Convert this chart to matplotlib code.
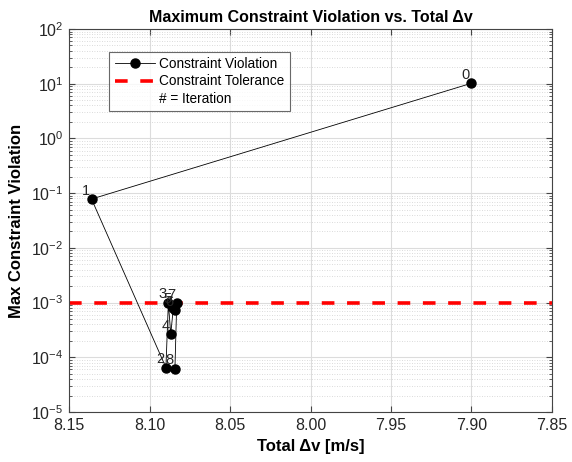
import numpy as np
import matplotlib
matplotlib.use("Agg")
import matplotlib.pyplot as plt
from matplotlib.lines import Line2D
from matplotlib.ticker import LogLocator, FixedLocator

plt.rcParams['font.family'] = ['Liberation Sans', 'DejaVu Sans']
plt.rcParams['mathtext.fontset'] = 'custom'
plt.rcParams['mathtext.rm'] = 'Liberation Sans'
plt.rcParams['mathtext.it'] = 'Liberation Sans:italic'

# data
iteration = [0, 1, 2, 3, 4, 5, 6, 7, 8]
total_dv = [7.900, 8.136, 8.0898, 8.0883, 8.0868, 8.0852, 8.0842, 8.0831, 8.0842]
max_violation = [10.2, 0.078, 6.5e-5, 9.9e-4, 2.65e-4, 8.0e-4, 7.3e-4, 9.7e-4, 6.2e-5]
tolerance = 1e-3
x_ticks = [8.15, 8.10, 8.05, 8.00, 7.95, 7.90, 7.85]
y_exponents = [-5, -4, -3, -2, -1, 0, 1, 2]

fig = plt.figure(figsize=(5.72, 4.62), dpi=100)
ax = fig.add_axes([69/572, 1 - 412/462, 483/572, 383/462])

ax.plot(total_dv, max_violation, '-o', color='black', lw=0.6,
        markersize=6.5, markerfacecolor='black', zorder=3)
ax.axhline(tolerance, color='red', ls=(0, (3.5, 3.5)), lw=2.6, zorder=2)

for it, x, y in zip(iteration, total_dv, max_violation):
    ax.annotate(str(it), (x, y), xytext=(-1, 1), textcoords='offset points',
                ha='right', va='bottom', fontsize=10.5, color='#262626', zorder=4)

ax.set_yscale('log')
ax.set_ylim(1e-5, 1e2)
ax.set_xlim(8.15, 7.85)
ax.xaxis.set_major_locator(FixedLocator(x_ticks))
ax.set_xticklabels(['%.2f' % v for v in x_ticks])
ax.set_yticks([10.0 ** e for e in y_exponents])
ax.set_yticklabels([r'$10^{%d}$' % e for e in y_exponents])
ax.yaxis.set_minor_locator(LogLocator(base=10, subs=np.arange(2, 10), numticks=20))

ax.grid(True, which='major', color='#dcdcdc', lw=0.8)
ax.grid(True, which='minor', axis='y', color='#cfcfcf', lw=0.6, ls=(0, (1, 2)))
ax.set_axisbelow(True)

for s in ax.spines.values():
    s.set_color('#444444')
    s.set_linewidth(0.8)
ax.tick_params(which='both', direction='in', top=True, right=True,
               colors='#444444', labelcolor='#262626', labelsize=11.5)
ax.tick_params(which='major', length=4, pad=4)
ax.tick_params(which='minor', length=2)

ax.set_title('Maximum Constraint Violation vs. Total \u0394v',
             fontsize=11.5, fontweight='bold', pad=5)
ax.set_xlabel('Total \u0394v [m/s]', fontsize=12, fontweight='bold', labelpad=5)
ax.set_ylabel('Max Constraint Violation', fontsize=12, fontweight='bold', labelpad=5)

handles = [
    Line2D([], [], color='black', marker='o', lw=0.6, markersize=6.5),
    Line2D([], [], color='red', ls=(0, (3.5, 3.5)), lw=2.6),
    Line2D([], [], color='none'),
]
labels = ['Constraint Violation', 'Constraint Tolerance', '# = Iteration']
leg = ax.legend(handles, labels, loc='upper left', bbox_to_anchor=(0.083, 0.941),
                fontsize=9.8, frameon=True, fancybox=False, edgecolor='#444444',
                borderpad=0.4, labelspacing=0.25, handlelength=3.0,
                handletextpad=0.3, borderaxespad=0)
leg.get_frame().set_linewidth(0.8)

fig.savefig('out.png', dpi=100)
